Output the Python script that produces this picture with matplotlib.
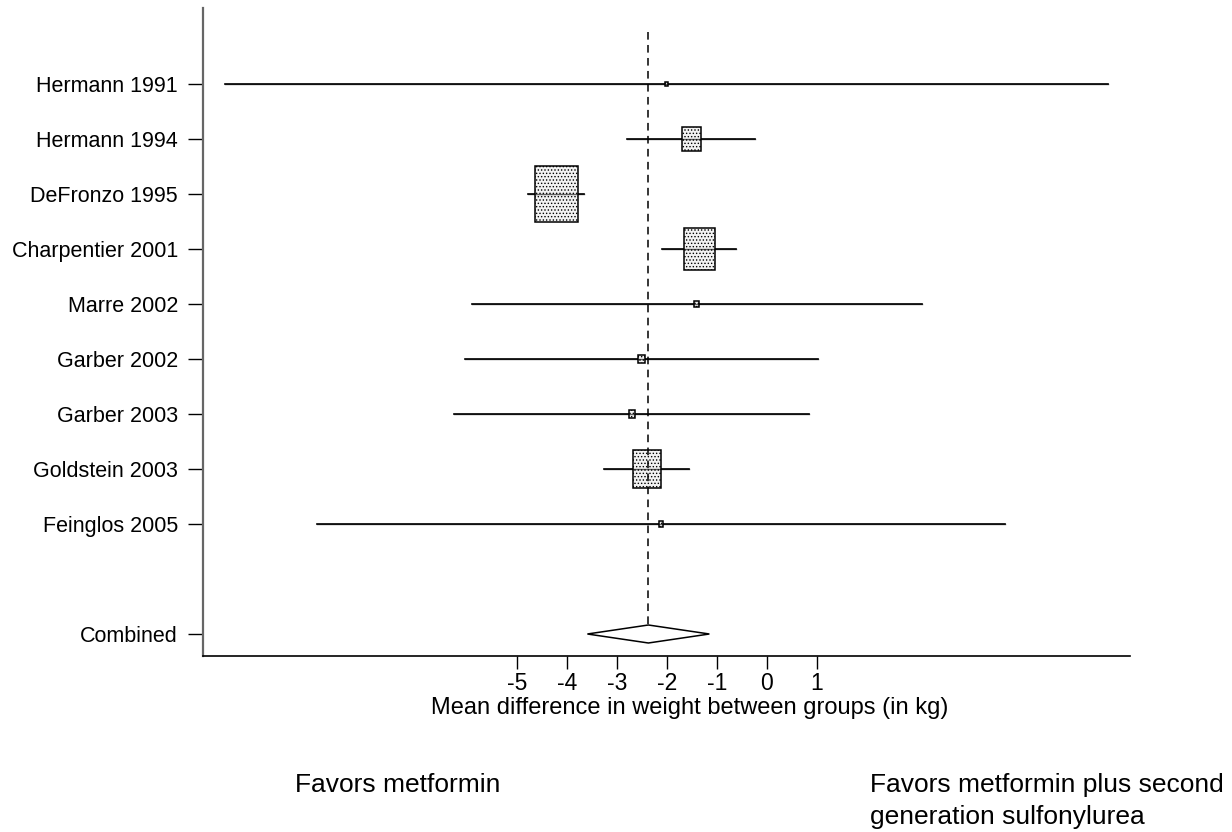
import matplotlib
matplotlib.use("Agg")
import matplotlib.pyplot as plt
from matplotlib.patches import Rectangle, Polygon
import numpy as np

plt.rcParams['font.family'] = ['Liberation Sans', 'DejaVu Sans']
plt.rcParams['hatch.color'] = '#b0b0b0'
plt.rcParams['hatch.linewidth'] = 0.6

studies = ["Hermann 1991", "Hermann 1994", "DeFronzo 1995", "Charpentier 2001",
           "Marre 2002", "Garber 2002", "Garber 2003", "Goldstein 2003", "Feinglos 2005"]
estimates = [-2.01, -1.51, -4.21, -1.35, -1.40, -2.51, -2.70, -2.40, -2.11]
ci_low = [-10.83, -2.79, -4.77, -2.09, -5.90, -6.03, -6.25, -3.25, -8.99]
ci_high = [6.83, -0.23, -3.65, -0.61, 3.10, 1.03, 0.85, -1.55, 4.77]
weights = [0.17, 8.59, 44.30, 24.11, 0.66, 1.00, 1.09, 19.66, 0.41]

combined_label = "Combined"
combined_est = -2.37
combined_low = -3.59
combined_high = -1.15

xticks = [-5, -4, -3, -2, -1, 0, 1]
xlabel = "Mean difference in weight between groups (in kg)"
left_note = "Favors metformin"
right_note = ["Favors metformin plus second", "generation sulfonylurea"]

W, H = 1232, 832
fig = plt.figure(figsize=(W / 100, H / 100), dpi=100)
ax_left, ax_right, ax_top, ax_bot = 203, 1130, 8, 656
ax = fig.add_axes([ax_left / W, 1 - ax_bot / H, (ax_right - ax_left) / W, (ax_bot - ax_top) / H])

n = len(studies)
ypos = list(range(n))
y_comb = n + 1
ax.set_xlim(-11.28, 7.265)
ax.set_ylim(10.4, -1.38)

px_per_x = (ax_right - ax_left) / (7.265 + 11.28)
px_per_y = (ax_bot - ax_top) / (10.4 + 1.38)

diamond_half_h = 9 / px_per_y
ax.plot([combined_est, combined_est], [-0.95, y_comb - diamond_half_h],
        color='black', lw=1.1, ls=(0, (5, 3.5)), zorder=5)

k = 8.41
for i in range(n):
    ax.plot([ci_low[i], ci_high[i]], [ypos[i], ypos[i]], color='black', lw=1.2, zorder=2)
    h_px = k * np.sqrt(weights[i])
    w_px = 0.76 * h_px
    bw = w_px / px_per_x
    bh = h_px / px_per_y
    r = Rectangle((estimates[i] - bw / 2, ypos[i] - bh / 2), bw, bh,
                  facecolor='#f2f2f2', edgecolor='black', lw=1.1, hatch='.....', zorder=3)
    ax.add_patch(r)
    ax.plot([ci_low[i], ci_high[i]], [ypos[i], ypos[i]], color='black', lw=1.0, alpha=0.6, zorder=4)

diamond = Polygon([[combined_low, y_comb], [combined_est, y_comb - diamond_half_h],
                   [combined_high, y_comb], [combined_est, y_comb + diamond_half_h]],
                  closed=True, facecolor='white', edgecolor='black', lw=1.1, zorder=3)
ax.add_patch(diamond)

ax.set_yticks(ypos + [y_comb])
ax.set_yticklabels(studies + [combined_label], fontsize=15.5)
ax.set_xticks(xticks)
ax.set_xticklabels([str(t) for t in xticks], fontsize=16.5)

for s in ['top', 'right']:
    ax.spines[s].set_visible(False)
ax.spines['left'].set_color('#666666')
ax.spines['left'].set_linewidth(1.6)
ax.spines['bottom'].set_color('black')
ax.spines['bottom'].set_linewidth(1.2)
ax.tick_params(axis='y', direction='out', length=11, width=1.0, pad=7, colors='black')
ax.tick_params(axis='x', direction='out', length=9.5, width=1.0, pad=2, colors='black')
ax.grid(False)

fig.text(690 / W, 1 - 708 / H, xlabel, ha='center', va='center', fontsize=17)
fig.text(295 / W, 1 - 785 / H, left_note, ha='left', va='center', fontsize=19)
fig.text(870 / W, 1 - 785 / H, right_note[0], ha='left', va='center', fontsize=19)
fig.text(870 / W, 1 - 817 / H, right_note[1], ha='left', va='center', fontsize=19)

fig.savefig("out.png", dpi=100)
